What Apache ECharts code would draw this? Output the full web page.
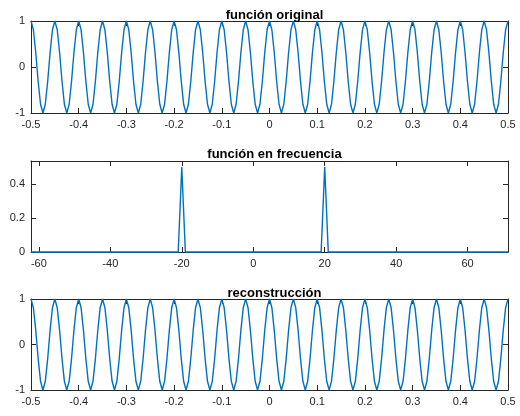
<!DOCTYPE html>
<html>
<head>
<meta charset="utf-8">
<script src="https://cdn.jsdelivr.net/npm/echarts@6/dist/echarts.min.js"></script>
<style>html,body{margin:0;padding:0;background:#fff}#c{width:520px;height:416px}</style>
</head>
<body>
<div id="c"></div>
<script>
// ---- data ----
const titles = ['función original', 'función en frecuencia', 'reconstrucción'];

const timeValues = [
 -0.5,-0.495,-0.49,-0.485,-0.48,-0.475,-0.47,-0.465,-0.46,-0.455,
 -0.45,-0.445,-0.44,-0.435,-0.43,-0.425,-0.42,-0.415,-0.41,-0.405,
 -0.4,-0.395,-0.39,-0.385,-0.38,-0.375,-0.37,-0.365,-0.36,-0.355,
 -0.35,-0.345,-0.34,-0.335,-0.33,-0.325,-0.32,-0.315,-0.31,-0.305,
 -0.3,-0.295,-0.29,-0.285,-0.28,-0.275,-0.27,-0.265,-0.26,-0.255,
 -0.25,-0.245,-0.24,-0.235,-0.23,-0.225,-0.22,-0.215,-0.21,-0.205,
 -0.2,-0.195,-0.19,-0.185,-0.18,-0.175,-0.17,-0.165,-0.16,-0.155,
 -0.15,-0.145,-0.14,-0.135,-0.13,-0.125,-0.12,-0.115,-0.11,-0.105,
 -0.1,-0.095,-0.09,-0.085,-0.08,-0.075,-0.07,-0.065,-0.06,-0.055,
 -0.05,-0.045,-0.04,-0.035,-0.03,-0.025,-0.02,-0.015,-0.01,-0.005,
 0,0.005,0.01,0.015,0.02,0.025,0.03,0.035,0.04,0.045,
 0.05,0.055,0.06,0.065,0.07,0.075,0.08,0.085,0.09,0.095,
 0.1,0.105,0.11,0.115,0.12,0.125,0.13,0.135,0.14,0.145,
 0.15,0.155,0.16,0.165,0.17,0.175,0.18,0.185,0.19,0.195,
 0.2,0.205,0.21,0.215,0.22,0.225,0.23,0.235,0.24,0.245,
 0.25,0.255,0.26,0.265,0.27,0.275,0.28,0.285,0.29,0.295,
 0.3,0.305,0.31,0.315,0.32,0.325,0.33,0.335,0.34,0.345,
 0.35,0.355,0.36,0.365,0.37,0.375,0.38,0.385,0.39,0.395,
 0.4,0.405,0.41,0.415,0.42,0.425,0.43,0.435,0.44,0.445,
 0.45,0.455,0.46,0.465,0.47,0.475,0.48,0.485,0.49,0.495,
 0.5
];

const originalValues = [
 1,0.809,0.309,-0.309,-0.809,-1,-0.809,-0.309,0.309,0.809,
 1,0.809,0.309,-0.309,-0.809,-1,-0.809,-0.309,0.309,0.809,
 1,0.809,0.309,-0.309,-0.809,-1,-0.809,-0.309,0.309,0.809,
 1,0.809,0.309,-0.309,-0.809,-1,-0.809,-0.309,0.309,0.809,
 1,0.809,0.309,-0.309,-0.809,-1,-0.809,-0.309,0.309,0.809,
 1,0.809,0.309,-0.309,-0.809,-1,-0.809,-0.309,0.309,0.809,
 1,0.809,0.309,-0.309,-0.809,-1,-0.809,-0.309,0.309,0.809,
 1,0.809,0.309,-0.309,-0.809,-1,-0.809,-0.309,0.309,0.809,
 1,0.809,0.309,-0.309,-0.809,-1,-0.809,-0.309,0.309,0.809,
 1,0.809,0.309,-0.309,-0.809,-1,-0.809,-0.309,0.309,0.809,
 1,0.809,0.309,-0.309,-0.809,-1,-0.809,-0.309,0.309,0.809,
 1,0.809,0.309,-0.309,-0.809,-1,-0.809,-0.309,0.309,0.809,
 1,0.809,0.309,-0.309,-0.809,-1,-0.809,-0.309,0.309,0.809,
 1,0.809,0.309,-0.309,-0.809,-1,-0.809,-0.309,0.309,0.809,
 1,0.809,0.309,-0.309,-0.809,-1,-0.809,-0.309,0.309,0.809,
 1,0.809,0.309,-0.309,-0.809,-1,-0.809,-0.309,0.309,0.809,
 1,0.809,0.309,-0.309,-0.809,-1,-0.809,-0.309,0.309,0.809,
 1,0.809,0.309,-0.309,-0.809,-1,-0.809,-0.309,0.309,0.809,
 1,0.809,0.309,-0.309,-0.809,-1,-0.809,-0.309,0.309,0.809,
 1,0.809,0.309,-0.309,-0.809,-1,-0.809,-0.309,0.309,0.809,
 1
];

const reconstructionValues = originalValues.slice();

const freqValues = [-62.2, -21, -20, -19, 19, 20, 21, 71.3];
const magnitudeValues = [0, 0, 0.5, 0, 0, 0.5, 0, 0];

const timeTicks = [-0.5,-0.4,-0.3,-0.2,-0.1,0,0.1,0.2,0.3,0.4,0.5];
const ampTicks = [-1, 0, 1];
const freqTicks = [-60, -40, -20, 0, 20, 40, 60];
const magTicks = [0, 0.2, 0.4];

// ---- chart ----
const FONT = '"Liberation Sans", Arial, Helvetica, sans-serif';
const AX = '#262626';
const BLUE = '#0072BD';

const grids = [
  {left: 31, right: 12, top: 21, height: 92},
  {left: 31, right: 12, top: 161, height: 91},
  {left: 31, right: 12, top: 299, height: 91}
];
const titleTops = [4, 143, 282];

function pair(xs, ys) { return xs.map((x, i) => [x, ys[i]]); }

function xAx(g, pos, min, max, ticks) {
  return {
    type: 'value', gridIndex: g, position: pos, min: min, max: max,
    axisLine: {show: true, onZero: false, lineStyle: {color: AX, width: 1}},
    axisTick: {show: true, inside: true, length: 5, customValues: ticks, lineStyle: {color: AX}},
    axisLabel: {show: pos === 'bottom', customValues: ticks, color: AX, fontSize: 11, fontFamily: FONT, margin: 6},
    splitLine: {show: false}
  };
}
function yAx(g, pos, min, max, ticks) {
  return {
    type: 'value', gridIndex: g, position: pos, min: min, max: max,
    axisLine: {show: true, onZero: false, lineStyle: {color: AX, width: 1}},
    axisTick: {show: true, inside: true, length: 5, customValues: ticks, lineStyle: {color: AX}},
    axisLabel: {show: pos === 'left', customValues: ticks, color: AX, fontSize: 11, fontFamily: FONT, margin: 6},
    splitLine: {show: false}
  };
}

const xAxes = [
  xAx(0, 'bottom', -0.5, 0.5, timeTicks), xAx(0, 'top', -0.5, 0.5, timeTicks),
  xAx(1, 'bottom', -62.2, 71.3, freqTicks), xAx(1, 'top', -62.2, 71.3, freqTicks),
  xAx(2, 'bottom', -0.5, 0.5, timeTicks), xAx(2, 'top', -0.5, 0.5, timeTicks)
];
const yAxes = [
  yAx(0, 'left', -1, 1, ampTicks), yAx(0, 'right', -1, 1, ampTicks),
  yAx(1, 'left', 0, 0.535, magTicks), yAx(1, 'right', 0, 0.535, magTicks),
  yAx(2, 'left', -1, 1, ampTicks), yAx(2, 'right', -1, 1, ampTicks)
];

function lineSeries(xi, yi, data) {
  return {
    type: 'line', xAxisIndex: xi, yAxisIndex: yi, data: data,
    showSymbol: false, symbol: 'none', clip: false, animation: false,
    lineStyle: {color: BLUE, width: 1.4}
  };
}

const chart = echarts.init(document.getElementById('c'), null, {renderer: 'canvas'});
chart.setOption({
  animation: false,
  backgroundColor: '#ffffff',
  title: titles.map((t, i) => ({
    text: t, left: 269.5, top: titleTops[i], textAlign: 'center',
    textStyle: {fontSize: 13, fontWeight: 'bold', color: '#000', fontFamily: FONT}
  })),
  grid: grids,
  xAxis: xAxes,
  yAxis: yAxes,
  series: [
    lineSeries(0, 0, pair(timeValues, originalValues)),
    lineSeries(2, 2, pair(freqValues, magnitudeValues)),
    lineSeries(4, 4, pair(timeValues, reconstructionValues))
  ]
});
</script>
</body>
</html>
